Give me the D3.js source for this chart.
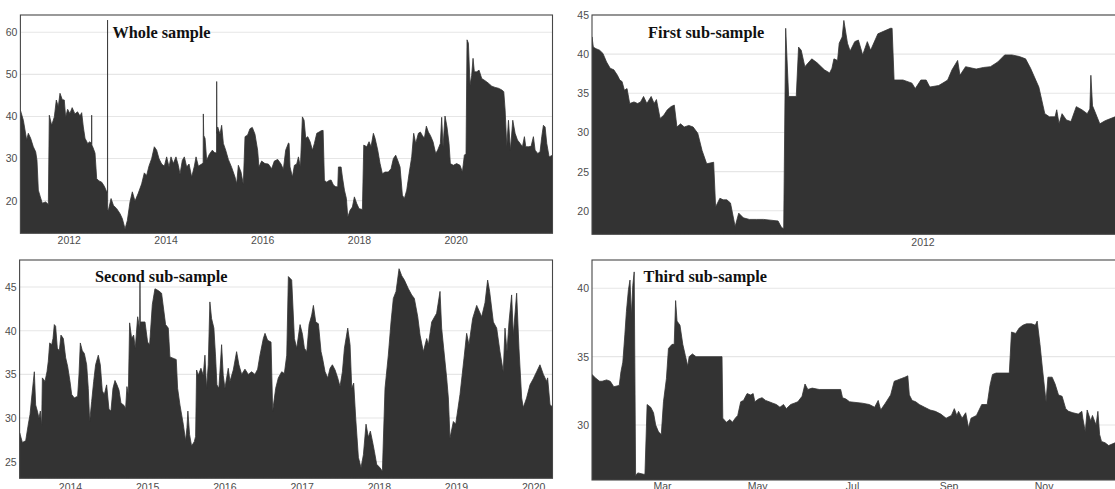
<!DOCTYPE html>
<html>
<head>
<meta charset="utf-8">
<script src="https://cdn.jsdelivr.net/npm/d3@7"></script>
<style>
  body { margin: 0; background: #fff; }
</style>
</head>
<body>
<div id="chart"></div>
<script>
// values: [decimal year, value]
const wholeSample = [
  [2011.000,41.5],[2011.061,39.1],[2011.130,34.4],[2011.164,36.0],[2011.212,34.8],[2011.267,32.8],[2011.316,31.6],[2011.343,29.6],
  [2011.371,22.5],[2011.412,20.9],[2011.453,19.4],[2011.522,19.7],[2011.578,19.1],[2011.598,40.3],[2011.647,37.9],[2011.702,39.9],
  [2011.743,43.9],[2011.784,42.3],[2011.819,45.5],[2011.867,44.0],[2011.908,43.9],[2011.936,39.8],[2011.977,41.7],[2012.023,40.7],
  [2012.071,42.1],[2012.127,40.6],[2012.182,41.1],[2012.232,40.1],[2012.267,40.9],[2012.301,37.5],[2012.336,34.8],[2012.391,33.6],
  [2012.439,34.0],[2012.470,33.5],[2012.473,40.3],[2012.477,33.2],[2012.494,32.8],[2012.542,31.3],[2012.577,25.2],[2012.625,24.7],
  [2012.680,24.4],[2012.735,23.4],[2012.783,22.1],[2012.799,22.0],[2012.801,62.9],[2012.803,17.8],[2012.818,17.7],[2012.873,20.5],
  [2012.921,18.9],[2012.990,18.1],[2013.059,16.9],[2013.107,15.7],[2013.162,13.3],[2013.210,15.3],[2013.265,19.7],[2013.313,22.1],
  [2013.368,19.9],[2013.437,21.8],[2013.506,24.0],[2013.561,26.6],[2013.609,26.0],[2013.657,28.2],[2013.713,30.0],[2013.768,32.8],
  [2013.816,32.0],[2013.864,30.0],[2013.919,28.7],[2013.975,28.2],[2014.023,30.4],[2014.072,28.0],[2014.113,30.4],[2014.161,28.8],
  [2014.216,30.4],[2014.264,28.4],[2014.299,26.3],[2014.348,29.6],[2014.389,30.4],[2014.437,28.0],[2014.486,28.7],[2014.541,25.6],
  [2014.596,28.2],[2014.631,30.4],[2014.679,28.2],[2014.748,28.7],[2014.778,29.0],[2014.782,40.6],[2014.790,35.5],[2014.817,34.8],
  [2014.851,29.6],[2014.906,31.0],[2014.968,32.0],[2015.023,31.3],[2015.055,31.5],[2015.058,48.3],[2015.062,36.0],[2015.079,37.5],
  [2015.127,35.8],[2015.161,37.9],[2015.196,33.6],[2015.244,32.0],[2015.299,29.8],[2015.368,27.9],[2015.437,25.6],[2015.472,24.0],
  [2015.506,28.4],[2015.561,26.8],[2015.609,23.9],[2015.644,35.2],[2015.699,35.6],[2015.747,37.1],[2015.795,37.4],[2015.850,35.8],
  [2015.905,32.0],[2015.933,28.0],[2015.988,29.4],[2016.057,28.8],[2016.126,28.7],[2016.195,27.6],[2016.250,29.4],[2016.319,29.8],
  [2016.388,28.7],[2016.436,27.4],[2016.484,32.0],[2016.542,33.7],[2016.554,33.6],[2016.574,28.0],[2016.623,25.6],[2016.664,28.4],
  [2016.712,28.7],[2016.747,30.4],[2016.788,28.0],[2016.829,39.9],[2016.864,39.1],[2016.898,34.8],[2016.940,35.2],[2016.988,34.0],
  [2017.036,32.0],[2017.077,33.6],[2017.126,36.0],[2017.174,36.3],[2017.215,36.6],[2017.257,36.7],[2017.284,24.8],[2017.333,24.4],
  [2017.381,24.8],[2017.422,24.9],[2017.470,23.7],[2017.519,23.3],[2017.560,23.3],[2017.574,28.0],[2017.629,28.0],[2017.656,25.6],
  [2017.698,22.5],[2017.739,20.5],[2017.767,16.1],[2017.815,17.7],[2017.863,18.5],[2017.904,20.9],[2017.953,19.3],[2018.001,18.1],
  [2018.070,17.9],[2018.098,33.2],[2018.160,32.8],[2018.208,34.0],[2018.249,32.8],[2018.297,36.0],[2018.332,34.8],[2018.387,32.0],
  [2018.435,28.8],[2018.483,26.4],[2018.538,26.8],[2018.607,26.8],[2018.663,27.6],[2018.711,30.0],[2018.759,30.8],[2018.800,29.6],
  [2018.849,28.0],[2018.897,21.3],[2018.938,20.5],[2018.987,22.5],[2019.035,26.4],[2019.090,30.4],[2019.131,36.0],[2019.173,33.6],
  [2019.228,36.0],[2019.269,36.3],[2019.310,35.5],[2019.352,34.8],[2019.393,37.7],[2019.434,36.3],[2019.476,35.5],[2019.531,34.0],
  [2019.586,31.2],[2019.627,32.0],[2019.683,33.6],[2019.710,39.8],[2019.738,32.8],[2019.779,40.1],[2019.820,37.5],[2019.862,33.6],
  [2019.889,28.8],[2019.951,28.4],[2020.020,28.8],[2020.089,28.4],[2020.138,26.8],[2020.179,30.8],[2020.213,31.2],[2020.234,58.2],
  [2020.262,57.4],[2020.296,47.5],[2020.330,49.8],[2020.358,53.8],[2020.385,50.6],[2020.434,50.6],[2020.482,51.0],[2020.537,49.0],
  [2020.606,48.5],[2020.675,47.9],[2020.744,47.2],[2020.813,46.9],[2020.882,46.7],[2020.951,46.3],[2020.992,45.9],[2021.020,41.5],
  [2021.054,32.8],[2021.089,39.1],[2021.130,32.0],[2021.178,39.1],[2021.226,36.0],[2021.275,34.4],[2021.330,33.6],[2021.378,32.8],
  [2021.419,35.2],[2021.447,32.8],[2021.502,32.8],[2021.557,32.9],[2021.605,35.2],[2021.640,32.0],[2021.695,31.2],[2021.743,31.6],
  [2021.778,35.2],[2021.812,37.9],[2021.847,37.5],[2021.881,33.6],[2021.930,30.4],[2022.000,30.8]
];

const firstSub = [
  [2011.000,42.2],[2011.004,40.9],[2011.012,40.7],[2011.023,40.5],[2011.033,40.1],[2011.044,39.0],[2011.055,38.2],[2011.066,38.0],
  [2011.077,37.3],[2011.084,36.7],[2011.091,36.5],[2011.098,35.4],[2011.106,35.6],[2011.114,33.7],[2011.127,33.9],[2011.138,33.7],
  [2011.147,33.9],[2011.156,34.6],[2011.166,33.7],[2011.179,34.6],[2011.188,33.7],[2011.195,34.2],[2011.206,31.8],[2011.217,32.2],
  [2011.228,32.9],[2011.239,33.3],[2011.249,33.5],[2011.257,30.7],[2011.268,31.1],[2011.279,30.7],[2011.293,30.9],[2011.306,30.7],
  [2011.320,29.9],[2011.333,27.7],[2011.347,26.0],[2011.368,26.2],[2011.374,20.5],[2011.387,21.6],[2011.397,21.4],[2011.408,21.4],
  [2011.419,21.0],[2011.433,18.0],[2011.444,19.7],[2011.458,19.1],[2011.476,18.9],[2011.498,18.9],[2011.519,18.9],[2011.541,18.8],
  [2011.563,18.7],[2011.573,17.9],[2011.580,17.7],[2011.586,43.3],[2011.595,34.6],[2011.618,34.6],[2011.625,40.9],[2011.633,40.5],
  [2011.644,38.4],[2011.665,39.4],[2011.681,38.9],[2011.703,38.0],[2011.719,37.6],[2011.726,38.2],[2011.732,39.4],[2011.743,39.2],
  [2011.748,41.4],[2011.757,42.2],[2011.762,44.3],[2011.773,41.4],[2011.781,40.4],[2011.795,41.6],[2011.806,41.8],[2011.819,39.9],
  [2011.833,41.6],[2011.843,40.5],[2011.865,42.6],[2011.903,43.3],[2011.908,43.3],[2011.914,36.7],[2011.941,36.7],[2011.968,36.3],
  [2011.978,35.6],[2011.995,36.7],[2012.011,36.7],[2012.022,35.8],[2012.049,36.0],[2012.065,36.4],[2012.076,36.7],[2012.089,38.0],
  [2012.106,39.2],[2012.113,37.3],[2012.130,38.4],[2012.162,38.1],[2012.184,38.3],[2012.205,38.4],[2012.227,39.0],[2012.248,39.9],
  [2012.270,39.9],[2012.292,39.7],[2012.311,39.4],[2012.326,38.2],[2012.351,35.8],[2012.369,32.4],[2012.383,32.0],[2012.400,32.0],
  [2012.405,32.9],[2012.412,31.1],[2012.421,32.4],[2012.434,31.6],[2012.448,31.4],[2012.464,33.3],[2012.481,32.9],[2012.497,32.4],
  [2012.505,33.0],[2012.508,37.3],[2012.513,33.4],[2012.518,32.9],[2012.535,31.1],[2012.551,31.5],[2012.581,32.0],[2012.611,32.2]
];

const secondSub = [
  [2013.348,28.3],[2013.383,27.2],[2013.426,27.4],[2013.460,29.3],[2013.482,30.4],[2013.503,32.3],[2013.525,34.2],[2013.538,35.3],
  [2013.555,31.5],[2013.577,30.8],[2013.598,30.0],[2013.616,30.8],[2013.633,29.1],[2013.642,34.6],[2013.676,34.2],[2013.702,35.3],
  [2013.719,36.5],[2013.737,38.6],[2013.763,38.4],[2013.780,39.1],[2013.797,40.7],[2013.814,40.5],[2013.836,38.0],[2013.862,37.7],
  [2013.883,39.5],[2013.914,39.1],[2013.944,36.9],[2013.970,35.9],[2014.000,34.2],[2014.022,32.7],[2014.056,32.3],[2014.099,32.5],
  [2014.117,35.0],[2014.134,38.6],[2014.160,37.7],[2014.186,37.4],[2014.216,36.1],[2014.237,33.4],[2014.255,29.6],[2014.281,31.9],
  [2014.307,34.2],[2014.332,36.1],[2014.367,37.2],[2014.393,36.1],[2014.419,33.1],[2014.445,32.7],[2014.475,33.8],[2014.505,31.0],
  [2014.531,30.8],[2014.557,33.4],[2014.583,34.3],[2014.609,33.8],[2014.635,33.2],[2014.661,31.7],[2014.695,31.5],[2014.721,31.1],
  [2014.738,33.6],[2014.756,32.7],[2014.773,40.9],[2014.799,39.1],[2014.825,39.5],[2014.846,38.0],[2014.877,41.6],[2014.903,40.2],
  [2014.907,45.6],[2014.911,41.0],[2014.972,41.0],[2015.006,38.7],[2015.032,38.4],[2015.067,43.0],[2015.101,44.8],[2015.144,44.6],
  [2015.187,44.3],[2015.239,40.7],[2015.274,40.3],[2015.295,37.0],[2015.351,36.8],[2015.377,36.7],[2015.395,33.4],[2015.425,31.5],
  [2015.468,29.3],[2015.498,27.4],[2015.516,28.9],[2015.528,30.8],[2015.550,28.1],[2015.576,26.8],[2015.611,27.3],[2015.628,27.9],
  [2015.641,35.5],[2015.662,34.9],[2015.697,35.7],[2015.727,34.9],[2015.749,37.2],[2015.770,33.4],[2015.792,36.1],[2015.813,43.3],
  [2015.835,41.4],[2015.865,40.3],[2015.887,37.0],[2015.904,33.8],[2015.930,33.4],[2015.965,38.4],[2015.986,34.9],[2016.008,33.4],
  [2016.051,35.7],[2016.073,34.2],[2016.116,35.5],[2016.159,37.6],[2016.189,36.1],[2016.224,35.0],[2016.267,35.6],[2016.310,35.0],
  [2016.353,35.3],[2016.396,35.0],[2016.431,35.6],[2016.461,37.2],[2016.504,39.1],[2016.526,39.7],[2016.560,38.9],[2016.604,38.7],
  [2016.625,30.8],[2016.664,33.4],[2016.698,34.6],[2016.742,35.3],[2016.776,35.1],[2016.807,37.2],[2016.828,46.2],[2016.871,45.8],
  [2016.906,39.1],[2016.936,38.0],[2016.979,40.7],[2017.010,39.6],[2017.035,38.0],[2017.066,37.6],[2017.096,40.7],[2017.130,41.8],
  [2017.152,42.9],[2017.182,41.0],[2017.217,40.8],[2017.251,37.6],[2017.269,36.9],[2017.303,35.3],[2017.338,34.6],[2017.368,35.7],
  [2017.398,36.1],[2017.433,35.5],[2017.467,34.6],[2017.497,33.6],[2017.528,35.3],[2017.554,38.0],[2017.597,40.3],[2017.627,38.4],
  [2017.649,33.4],[2017.674,34.0],[2017.700,30.0],[2017.735,25.5],[2017.769,24.3],[2017.800,25.8],[2017.834,29.3],[2017.864,27.8],
  [2017.890,28.5],[2017.916,27.4],[2017.942,26.2],[2017.972,24.7],[2018.015,24.3],[2018.046,23.9],[2018.080,33.4],[2018.123,37.2],
  [2018.158,41.0],[2018.188,43.7],[2018.223,44.5],[2018.262,47.1],[2018.296,46.3],[2018.331,45.8],[2018.383,44.8],[2018.426,44.1],
  [2018.460,43.7],[2018.504,41.6],[2018.534,39.5],[2018.577,37.6],[2018.620,39.1],[2018.642,38.4],[2018.685,41.0],[2018.749,42.0],
  [2018.793,44.5],[2018.814,40.3],[2018.840,38.0],[2018.879,34.6],[2018.901,32.3],[2018.922,27.7],[2018.966,29.6],[2018.996,29.3],
  [2019.052,32.7],[2019.108,37.2],[2019.138,39.7],[2019.168,38.4],[2019.216,41.4],[2019.268,42.9],[2019.333,41.6],[2019.376,43.2],
  [2019.410,45.8],[2019.436,44.5],[2019.484,41.0],[2019.527,40.3],[2019.570,37.6],[2019.613,35.3],[2019.635,40.3],[2019.661,37.6],
  [2019.687,41.0],[2019.721,44.1],[2019.743,39.5],[2019.786,44.3],[2019.816,38.0],[2019.851,32.3],[2019.872,31.2],[2019.915,32.3],
  [2019.959,33.8],[2020.002,34.5],[2020.045,35.3],[2020.088,36.1],[2020.132,35.0],[2020.174,34.2],[2020.187,34.6],[2020.218,31.5],
  [2020.250,31.3]
];

// third sub-sample: [day of 2021 (0 = 1 Jan), value]
const thirdSub = [
  [14.0,33.7],[16.6,33.4],[18.9,33.2],[20.5,33.2],[23.4,33.3],[25.7,33.2],[28.0,32.8],[31.5,32.9],[32.6,33.9],[33.8,34.6],
  [35.1,36.6],[36.1,38.3],[37.4,39.9],[38.4,40.6],[39.3,38.0],[40.2,40.2],[41.1,41.2],[42.0,26.3],[43.4,26.5],[47.1,26.4],
  [48.0,26.4],[49.4,31.5],[51.7,31.3],[53.5,30.9],[54.9,30.0],[56.7,29.5],[58.5,29.3],[59.9,31.7],[61.8,33.4],[63.1,35.6],
  [65.4,35.9],[66.8,35.9],[67.7,39.1],[68.6,37.6],[70.5,37.3],[72.3,35.9],[73.9,35.1],[75.5,34.3],[76.4,35.0],[78.5,35.2],
  [80.8,35.0],[97.5,35.0],[98.0,30.5],[100.3,30.2],[102.6,30.4],[104.2,30.2],[106.0,30.5],[107.6,30.7],[109.5,31.7],[111.3,31.8],
  [113.6,32.3],[115.9,32.2],[117.5,32.3],[118.6,31.7],[120.9,31.9],[123.2,32.0],[125.5,31.8],[127.8,31.7],[130.1,31.6],[132.4,31.5],
  [134.7,31.3],[137.0,31.5],[138.8,31.2],[141.6,31.5],[143.9,31.6],[146.2,31.7],[148.9,32.1],[150.8,33.0],[152.6,32.6],[155.4,32.7],
  [159.9,32.6],[173.7,32.6],[174.9,32.0],[177.1,31.9],[179.4,31.7],[187.5,31.6],[192.1,31.5],[195.5,31.3],[197.8,31.8],[199.4,31.1],
  [202.4,31.6],[205.8,32.2],[208.1,33.2],[210.4,33.3],[212.7,33.4],[215.0,33.5],[216.8,33.6],[217.8,32.2],[219.6,31.8],[221.9,31.7],
  [224.2,31.5],[227.6,31.3],[231.1,31.1],[234.5,31.0],[238.0,30.8],[241.4,30.5],[244.8,30.7],[246.7,31.2],[248.3,30.7],[249.4,31.0],
  [251.7,30.5],[254.0,30.9],[255.8,29.8],[257.4,30.5],[260.9,30.7],[264.3,31.5],[267.8,31.5],[269.6,32.9],[271.2,33.7],[273.5,33.8],
  [282.0,33.8],[283.4,36.8],[286.1,36.7],[288.4,37.1],[290.7,37.3],[293.0,37.4],[296.4,37.4],[298.7,37.3],[299.9,37.6],[301.7,35.9],
  [303.3,34.1],[305.6,31.7],[306.8,33.5],[309.5,33.5],[311.4,33.0],[313.6,32.2],[315.9,32.1],[318.2,31.2],[320.1,31.0],[322.8,30.9],
  [326.3,30.8],[328.6,31.0],[329.2,30.5],[330.8,29.5],[332.0,31.1],[334.3,30.3],[335.4,30.7],[337.7,30.0],[338.9,31.0],[340.0,29.3],
  [341.2,28.8],[343.5,28.7],[345.8,28.5],[349.9,28.7],[356.3,28.8]
];

// tick labels
const wholeXTicks = [2012, 2014, 2016, 2018, 2020];
const firstXTicks = [2012];
const secondXTicks = [2014, 2015, 2016, 2017, 2018, 2019, 2020];
const thirdXTicks = ["2021-03-01", "2021-05-01", "2021-07-01", "2021-09-01", "2021-11-01"];
const wholeYTicks = [20, 30, 40, 50, 60];
const firstYTicks = [20, 25, 30, 35, 40, 45];
const secondYTicks = [25, 30, 35, 40, 45];
const thirdYTicks = [30, 35, 40];

// decimal year -> Date
function yearToDate(y) {
  const yr = Math.floor(y);
  const start = new Date(yr, 0, 1), end = new Date(yr + 1, 0, 1);
  return new Date(+start + (y - yr) * (end - start));
}
const dayToDate = d => new Date(+new Date(2021, 0, 1) + d * 864e5);

const svg = d3.select("#chart")
  .append("svg")
    .attr("width", 1115)
    .attr("height", 489)
    .style("background", "#fff");

const panels = [
  {
    title: "Whole sample",
    data: wholeSample.map(d => ({date: yearToDate(d[0]), value: d[1]})),
    xDomain: [yearToDate(2011), yearToDate(2022)], yDomain: [12.25, 64.1],
    xTicks: wholeXTicks.map(yearToDate), xFormat: d3.timeFormat("%Y"), yTicks: wholeYTicks,
    left: 20.4, top: 15, right: 552.5, bottom: 233.3, titleX: 92, titleY: 23.2, labelY: 11.3
  },
  {
    title: "First sub-sample",
    data: firstSub.map(d => ({date: yearToDate(d[0]), value: d[1]})),
    xDomain: [yearToDate(2011), yearToDate(2012.611)], yDomain: [17.0, 45.0],
    xTicks: firstXTicks.map(yearToDate), xFormat: d3.timeFormat("%Y"), yTicks: firstYTicks,
    left: 592, top: 15, right: 1125, bottom: 234.3, titleX: 56, titleY: 23.3, labelY: 12
  },
  {
    title: "Second sub-sample",
    data: secondSub.map(d => ({date: yearToDate(d[0]), value: d[1]})),
    xDomain: [yearToDate(2013.347), yearToDate(2020.25)], yDomain: [23.1, 48.1],
    xTicks: secondXTicks.map(yearToDate), xFormat: d3.timeFormat("%Y"), yTicks: secondYTicks,
    left: 19.6, top: 260, right: 552.5, bottom: 478.3, titleX: 75.4, titleY: 21.7, labelY: 13
  },
  {
    title: "Third sub-sample",
    data: thirdSub.map(d => ({date: dayToDate(d[0]), value: d[1]})),
    xDomain: [dayToDate(14), dayToDate(356.3)], yDomain: [25.98, 42.07],
    xTicks: thirdXTicks.map(d3.timeParse("%Y-%m-%d")), xFormat: d3.timeFormat("%b"), yTicks: thirdYTicks,
    left: 592, top: 260, right: 1125, bottom: 480, titleX: 51.6, titleY: 21.7, labelY: 11
  }
];

panels.forEach(function(p, i) {
  const width = p.right - p.left,
        height = p.bottom - p.top;

  const x = d3.scaleTime().domain(p.xDomain).range([0, width]);
  const y = d3.scaleLinear().domain(p.yDomain).range([height, 0]);

  const g = svg.append("g")
    .attr("transform", "translate(" + p.left + "," + p.top + ")");

  g.append("clipPath")
    .attr("id", "clip" + i)
    .append("rect")
      .attr("width", width)
      .attr("height", height);

  // horizontal grid
  g.append("g")
    .selectAll("line")
    .data(p.yTicks)
    .join("line")
      .attr("x1", 0)
      .attr("x2", width)
      .attr("y1", d => y(d))
      .attr("y2", d => y(d))
      .style("stroke", "#e6e6e6")
      .style("stroke-width", 1.1);

  // the series as a filled area (thin outline keeps one-day spikes visible)
  const area = d3.area()
    .x(d => x(d.date))
    .y0(height)
    .y1(d => y(d.value));

  g.append("path")
    .datum(p.data)
    .attr("clip-path", "url(#clip" + i + ")")
    .attr("d", area)
    .style("fill", "#333333")
    .style("stroke", "#333333")
    .style("stroke-width", 0.8)
    .style("stroke-linejoin", "round");

  // frame
  g.append("rect")
    .attr("width", width)
    .attr("height", height)
    .style("fill", "none")
    .style("stroke", "#474747")
    .style("stroke-width", 1.1);

  // y axis labels
  const yAxis = g.append("g")
    .call(d3.axisLeft(y).tickValues(p.yTicks).tickSize(0).tickPadding(3));
  yAxis.select(".domain").remove();
  yAxis.selectAll("text")
    .attr("font-family", "Liberation Sans, Arial, sans-serif")
    .attr("font-size", "10.5px")
    .attr("fill", "#4d4d4d");

  // x axis labels
  const xAxis = g.append("g")
    .attr("transform", "translate(0," + height + ")")
    .call(d3.axisBottom(x).tickValues(p.xTicks).tickFormat(p.xFormat).tickSize(0).tickPadding(p.labelY - 8));
  xAxis.select(".domain").remove();
  xAxis.selectAll("text")
    .attr("font-family", "Liberation Sans, Arial, sans-serif")
    .attr("font-size", "10.5px")
    .attr("fill", "#4d4d4d");

  // panel title
  g.append("text")
    .attr("x", p.titleX)
    .attr("y", p.titleY)
    .attr("font-family", "Liberation Serif, Times New Roman, serif")
    .attr("font-weight", "bold")
    .attr("font-size", "16.3px")
    .attr("fill", "#111")
    .text(p.title);
});
</script>
</body>
</html>
